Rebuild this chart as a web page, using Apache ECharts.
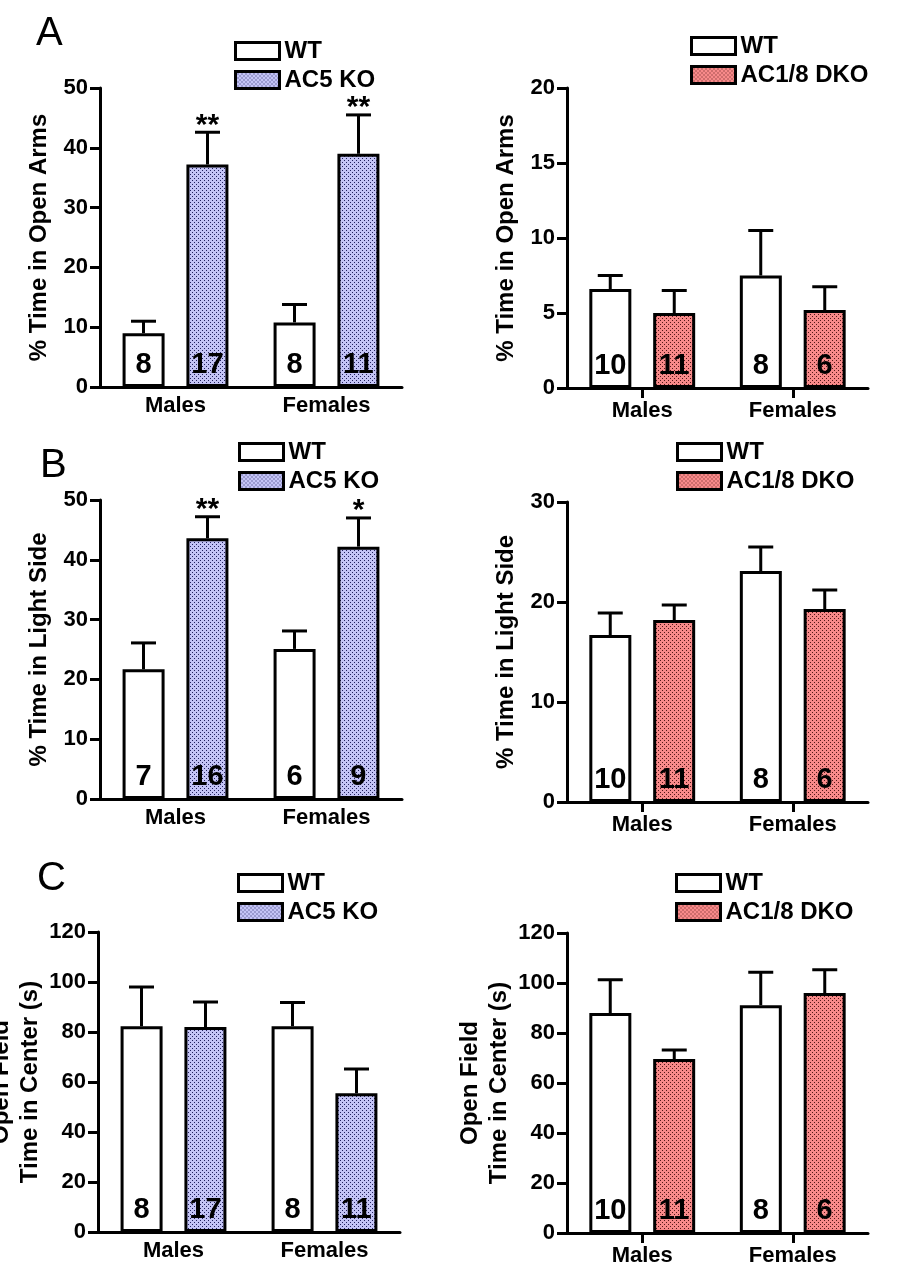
<!DOCTYPE html>
<html>
<head>
<meta charset="utf-8">
<script src="https://cdn.jsdelivr.net/npm/echarts@6/dist/echarts.min.js"></script>
<style>
  html, body { margin: 0; background: #fff; }
  #chart { width: 902px; height: 1287px; }
</style>
</head>
<body>
<div id="chart"></div>
<script>
const groups = ['Males', 'Females']

// A: % time in open arms
const openWT5 = [9.0, 10.8]
const openWT5Err = [2.0, 3.0]
const openKO5 = [37.2, 39.0]
const openKO5Err = [5.4, 6.5]
const openWT18 = [6.6, 7.5]
const openWT18Err = [0.9, 3.0]
const openDKO = [5.0, 5.2]
const openDKOErr = [1.5, 1.55]

// B: % time in light side
const lightWT5 = [21.7, 25.1]
const lightWT5Err = [4.4, 3.0]
const lightKO5 = [43.6, 42.2]
const lightKO5Err = [3.6, 4.8]
const lightWT18 = [16.7, 23.1]
const lightWT18Err = [2.2, 2.4]
const lightDKO = [18.2, 19.3]
const lightDKOErr = [1.5, 1.9]

// C: open field, time in center (s)
const centerWT5 = [82.3, 82.3]
const centerWT5Err = [15.7, 9.5]
const centerKO5 = [82.0, 55.5]
const centerKO5Err = [10.0, 9.7]
const centerWT18 = [88.0, 91.1]
const centerWT18Err = [13.3, 13.2]
const centerDKO = [69.6, 96.0]
const centerDKOErr = [3.6, 9.3]

// n per group
const nWT5A = [8, 8]
const nKO5A = [17, 11]
const nWT5B = [7, 6]
const nKO5B = [16, 9]
const nWT18 = [10, 8]
const nDKO = [11, 6]

const starsA = ['**', '**']
const starsB = ['**', '*']
const noStars = ['', '']

const FONT = '"Liberation Sans", Arial, sans-serif'

function dots(bg, dot) {
  const c = document.createElement('canvas')
  c.width = 4
  c.height = 4
  const g = c.getContext('2d')
  g.fillStyle = bg
  g.fillRect(0, 0, 4, 4)
  g.fillStyle = dot
  g.fillRect(0, 0, 1, 1)
  g.fillRect(2, 2, 1, 1)
  return { image: c, repeat: 'repeat' }
}
const blueFill = dots('#c4c4f6', '#22225e')
const redFill = dots('#f88a8a', '#551818')

const panels = [
  { grid: [100, 88, 302, 299], max: 50, step: 10, title: '% Time in Open Arms', wt: openWT5, wtErr: openWT5Err, ko: openKO5, koErr: openKO5Err, wtN: nWT5A, koN: nKO5A, stars: starsA, koName: 'AC5 KO', fill: blueFill, ticks: false, legend: [234, 39] },
  { grid: [567, 88, 301, 300], max: 20, step: 5, title: '% Time in Open Arms', wt: openWT18, wtErr: openWT18Err, ko: openDKO, koErr: openDKOErr, wtN: nWT18, koN: nDKO, stars: noStars, koName: 'AC1/8 DKO', fill: redFill, ticks: true, legend: [690, 34] },
  { grid: [100, 500, 302, 299], max: 50, step: 10, title: '% Time in Light Side', wt: lightWT5, wtErr: lightWT5Err, ko: lightKO5, koErr: lightKO5Err, wtN: nWT5B, koN: nKO5B, stars: starsB, koName: 'AC5 KO', fill: blueFill, ticks: false, legend: [238, 440] },
  { grid: [567, 502, 301, 300], max: 30, step: 10, title: '% Time in Light Side', wt: lightWT18, wtErr: lightWT18Err, ko: lightDKO, koErr: lightDKOErr, wtN: nWT18, koN: nDKO, stars: noStars, koName: 'AC1/8 DKO', fill: redFill, ticks: true, legend: [676, 440] },
  { grid: [98, 932, 302, 300], max: 120, step: 20, title: 'Open Field\nTime in Center (s)', wt: centerWT5, wtErr: centerWT5Err, ko: centerKO5, koErr: centerKO5Err, wtN: nWT5A, koN: nKO5A, stars: noStars, koName: 'AC5 KO', fill: blueFill, ticks: false, legend: [237, 871] },
  { grid: [567, 933, 301, 300], max: 120, step: 20, title: 'Open Field\nTime in Center (s)', wt: centerWT18, wtErr: centerWT18Err, ko: centerDKO, koErr: centerDKOErr, wtN: nWT18, koN: nDKO, stars: noStars, koName: 'AC1/8 DKO', fill: redFill, ticks: true, legend: [675, 871] }
]

const grid = []
const xAxis = []
const yAxis = []
const series = []
const legend = []

const countLabel = {
  show: true,
  position: 'insideBottom',
  distance: 8,
  color: '#000',
  fontFamily: FONT,
  fontWeight: 'bold',
  fontSize: 29
}

panels.forEach((p, i) => {
  grid.push({ left: p.grid[0], top: p.grid[1], width: p.grid[2], height: p.grid[3], outerBoundsMode: 'none', containLabel: false })
  const twoLine = p.title.indexOf('\n') > 0
  xAxis.push({
    type: 'category',
    gridIndex: i,
    data: groups,
    axisLine: { lineStyle: { color: '#000', width: 3 } },
    axisTick: { show: p.ticks, alignWithLabel: true, length: 10, lineStyle: { color: '#000', width: 3 } },
    axisLabel: { color: '#000', fontFamily: FONT, fontWeight: 'bold', fontSize: 22, margin: p.ticks ? 12 : 8 }
  })
  yAxis.push({
    type: 'value',
    gridIndex: i,
    min: 0,
    max: p.max,
    interval: p.step,
    name: p.title,
    nameLocation: 'middle',
    nameRotate: 90,
    nameGap: twoLine ? 53 : 46,
    nameMoveOverlap: false,
    nameTextStyle: { color: '#000', fontFamily: FONT, fontWeight: 'bold', fontSize: 24, lineHeight: 29 },
    splitLine: { show: false },
    axisLine: { show: true, lineStyle: { color: '#000', width: 3 } },
    axisTick: { show: true, length: 10, lineStyle: { color: '#000', width: 3 } },
    axisLabel: { color: '#000', fontFamily: FONT, fontWeight: 'bold', fontSize: 22, margin: 12 }
  })
  series.push({
    type: 'bar',
    name: 'WT',
    xAxisIndex: i,
    yAxisIndex: i,
    barWidth: 42,
    barGap: '52%',
    data: p.wt,
    itemStyle: { color: '#fff', borderColor: '#000', borderWidth: 3 },
    label: Object.assign({ formatter: d => p.wtN[d.dataIndex] }, countLabel),
    z: 2
  })
  series.push({
    type: 'bar',
    name: p.koName,
    xAxisIndex: i,
    yAxisIndex: i,
    barWidth: 42,
    barGap: '52%',
    data: p.ko,
    itemStyle: { color: p.fill, borderColor: '#000', borderWidth: 3 },
    label: Object.assign({ formatter: d => p.koN[d.dataIndex] }, countLabel),
    z: 2
  })
  // error bars (upper SEM only) and significance stars
  const errData = []
  groups.forEach((g, k) => {
    errData.push([k, p.wt[k], p.wtErr[k], -1, 0])
    errData.push([k, p.ko[k], p.koErr[k], 1, k + 1])
  })
  series.push({
    type: 'custom',
    xAxisIndex: i,
    yAxisIndex: i,
    data: errData,
    z: 3,
    silent: true,
    renderItem: (params, api) => {
      const k = api.value(0)
      const base = api.coord([k, api.value(1)])
      const top = api.coord([k, api.value(1) + api.value(2)])
      const x = base[0] + api.value(3) * 32
      const children = [
        { type: 'line', shape: { x1: x, y1: base[1], x2: x, y2: top[1] }, style: { stroke: '#000', lineWidth: 3 } },
        { type: 'line', shape: { x1: x - 12.5, y1: top[1], x2: x + 12.5, y2: top[1] }, style: { stroke: '#000', lineWidth: 3 } }
      ]
      const s = api.value(4) ? p.stars[api.value(4) - 1] : ''
      if (s) {
        children.push({
          type: 'text',
          style: { text: s, x: x, y: top[1] + 8, align: 'center', verticalAlign: 'bottom', fill: '#000', font: 'bold 30px ' + FONT }
        })
      }
      return { type: 'group', children: children }
    }
  })
  legend.push({
    orient: 'vertical',
    left: p.legend[0],
    top: p.legend[1],
    padding: 0,
    itemWidth: 44,
    itemHeight: 17,
    itemGap: 5,
    icon: 'rect',
    selectedMode: false,
    data: ['WT', p.koName],
    itemStyle: { borderColor: '#000', borderWidth: 3 },
    textStyle: { color: '#000', fontFamily: FONT, fontWeight: 'bold', fontSize: 24, lineHeight: 24, padding: [0, 0, 0, 0] }
  })
})

const letters = [['A', 36, 14], ['B', 40, 446], ['C', 37, 859]]

const chart = echarts.init(document.getElementById('chart'))
chart.setOption({
  backgroundColor: '#fff',
  animation: false,
  title: letters.map(l => ({ text: l[0], left: l[1], top: l[2], padding: 0, textStyle: { fontFamily: FONT, fontWeight: 'normal', fontSize: 40, color: '#000' } })),
  legend: legend,
  grid: grid,
  xAxis: xAxis,
  yAxis: yAxis,
  series: series
})
</script>
</body>
</html>
